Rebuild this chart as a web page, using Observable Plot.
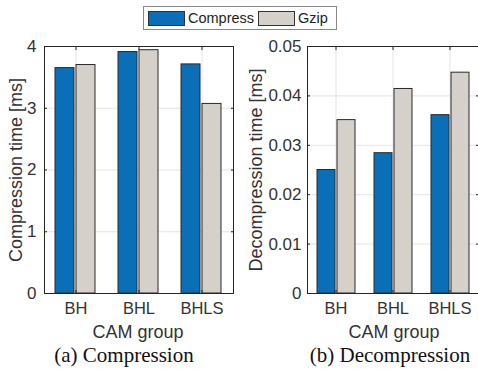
<!DOCTYPE html>
<html>
<head>
<meta charset="utf-8">
<script src="https://cdn.jsdelivr.net/npm/d3@7"></script>
<script src="https://cdn.jsdelivr.net/npm/@observablehq/plot@0.6"></script>
<style>
  html, body { margin: 0; padding: 0; background: #fff; }
  #root { position: relative; width: 478px; height: 369px; overflow: hidden; font-family: "Liberation Sans", Arial, sans-serif; }
  .panel { position: absolute; top: 0; z-index: 1; }
  .panel svg text { font-family: "Liberation Sans", Arial, sans-serif; }
  .caption { position: absolute; top: 343px; font-family: "Liberation Serif", "Times New Roman", serif; font-size: 21px; color: #111; white-space: nowrap; transform: translateX(-50%); z-index: 3; }
  .ylab { position: absolute; font-size: 18px; color: #333; white-space: nowrap; transform: translate(-50%, -50%) rotate(-90deg); z-index: 3; line-height: 1; }
  .xlab { position: absolute; top: 323px; font-size: 18px; color: #333; white-space: nowrap; transform: translateX(-50%); z-index: 3; line-height: 1; }
  #legend { position: absolute; left: 143px; top: 6px; width: 192px; height: 22px; border: 1px solid #888; background: #fff; display: flex; align-items: center; font-size: 14.5px; color: #222; box-sizing: content-box; z-index: 5; }
  .sw { display: inline-block; width: 35px; height: 13px; border: 1px solid #333; margin-left: 4px; margin-right: 3px; }
</style>
</head>
<body>
<div id="root">
  <div id="legend"></div>
  <div class="panel" id="pa" style="left:0px"></div>
  <div class="panel" id="pb" style="left:240px"></div>
  <div class="ylab" id="ylA" style="left:16px; top:170px"></div>
  <div class="ylab" id="ylB" style="left:256px; top:170px"></div>
  <div class="xlab" id="xlA" style="left:138px"></div>
  <div class="xlab" id="xlB" style="left:394px"></div>
  <div class="caption" id="capA" style="left:124px"></div>
  <div class="caption" id="capB" style="left:390px"></div>
</div>
<script>
const groups = ["BH", "BHL", "BHLS"];
const series = ["Compress", "Gzip"];
const compressTime = [3.65, 3.91, 3.71];
const gzipTime = [3.70, 3.94, 3.07];
const compressDecomp = [0.0250, 0.0284, 0.0361];
const gzipDecomp = [0.0351, 0.0414, 0.0447];
const yTicksA = [0, 1, 2, 3, 4];
const yTicksB = [0, 0.01, 0.02, 0.03, 0.04, 0.05];
const captions = ["(a) Compression", "(b) Decompression"];
const xLabel = "CAM group";
const yLabels = ["Compression time [ms]", "Decompression time [ms]"];
const colors = ["#0b6fb8", "#d5d1ca"];

function rows(a, b) {
  const out = [];
  groups.forEach((g, i) => {
    out.push({group: g, series: series[0], value: a[i]});
    out.push({group: g, series: series[1], value: b[i]});
  });
  return out;
}

function panel(data, yTicks, opts) {
  const axisColor = "#262626";
  return Plot.plot({
    width: opts.width,
    height: 345,
    marginLeft: opts.marginLeft,
    marginRight: opts.marginRight,
    marginTop: 46,
    marginBottom: 52,
    style: {fontSize: "17px", color: "#333", background: "#fff"},
    fx: {domain: groups, padding: 0},
    x: {domain: series, paddingInner: opts.pi, paddingOuter: opts.po, axis: null},
    y: {domain: [yTicks[0], yTicks[yTicks.length - 1]]},
    color: {domain: series, range: colors},
    marks: [
      Plot.gridY(yTicks, {stroke: "#e4e4e4", strokeOpacity: 1}),
      Plot.gridFx({stroke: "#e4e4e4", strokeOpacity: 1}),
      Plot.barY(data, {fx: "group", x: "series", y: "value", fill: "series", stroke: "#2a2a2a", strokeWidth: 1}),
      Plot.axisY(yTicks, {anchor: "left", tickSize: 0, tickPadding: opts.tickPad, tickFormat: d => String(d), label: null, fontSize: 17}),
      Plot.axisY(yTicks, {anchor: "left", tickSize: -3, text: null, label: null, stroke: axisColor}),
      Plot.axisY(yTicks, {anchor: "right", tickSize: -3, text: null, label: null, stroke: axisColor}),
      Plot.axisFx({anchor: "bottom", tickSize: 0, tickPadding: 9, label: null, fontSize: 16.5}),
      Plot.axisFx({anchor: "bottom", tickSize: -3, text: null, label: null, stroke: axisColor}),
      Plot.axisFx({anchor: "top", tickSize: -3, text: null, label: null, stroke: axisColor}),
      Plot.frame({facet: "super", stroke: axisColor, strokeWidth: 1})
    ]
  });
}

const pa = panel(rows(compressTime, gzipTime), yTicksA, {width: 240, marginLeft: 44, marginRight: 7, pi: 0.08, po: 0.52, tickPad: 8});
const pb = panel(rows(compressDecomp, gzipDecomp), yTicksB, {width: 238, marginLeft: 67, marginRight: 0, pi: 0.1, po: 0.47, tickPad: 6});
document.getElementById("pa").appendChild(pa);
document.getElementById("pb").appendChild(pb);
document.getElementById("capA").textContent = captions[0];
document.getElementById("capB").textContent = captions[1];
document.getElementById("ylA").textContent = yLabels[0];
document.getElementById("ylB").textContent = yLabels[1];
document.getElementById("xlA").textContent = xLabel;
document.getElementById("xlB").textContent = xLabel;

const legend = document.getElementById("legend");
series.forEach((s, i) => {
  const sw = document.createElement("span");
  sw.className = "sw";
  sw.style.background = colors[i];
  legend.appendChild(sw);
  const t = document.createElement("span");
  t.textContent = s;
  legend.appendChild(t);
});
</script>
</body>
</html>
